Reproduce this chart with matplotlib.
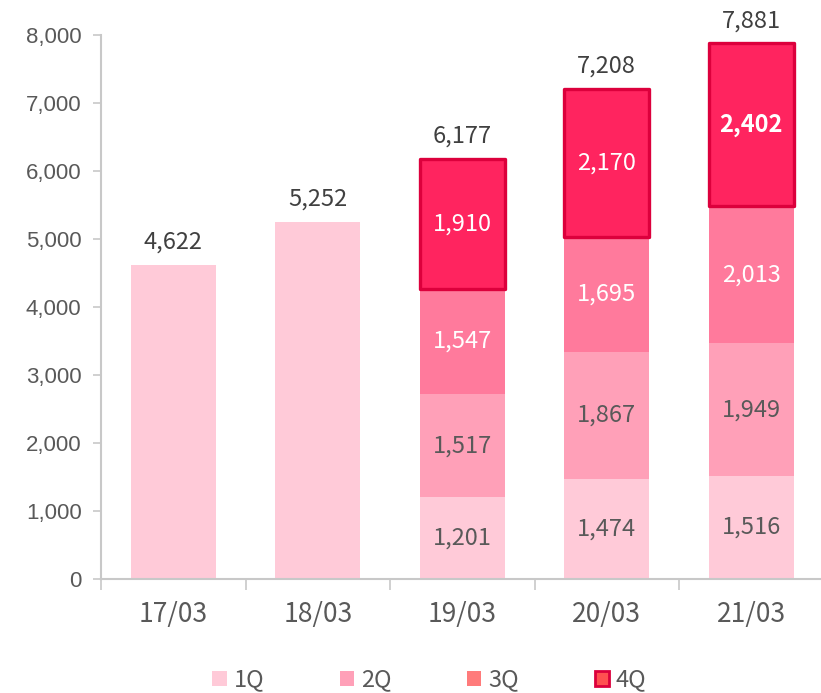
import matplotlib.pyplot as plt
from matplotlib.patches import Patch

plt.rcParams['font.family'] = ['Noto Sans CJK JP', 'DejaVu Sans']

# data
years = ['17/03', '18/03', '19/03', '20/03', '21/03']
q1 = [4622, 5252, 1201, 1474, 1516]
q2 = [0, 0, 1517, 1867, 1949]
q3 = [0, 0, 1547, 1695, 2013]
q4 = [0, 0, 1910, 2170, 2402]
totals = [4622, 5252, 6177, 7208, 7881]
yticks = [0, 1000, 2000, 3000, 4000, 5000, 6000, 7000, 8000]

c1, c2, c3, c4 = '#FFCAD8', '#FFA0B8', '#FF7A9C', '#FF245F'
edge4 = '#DC003C'
gray = '#595959'

fig = plt.figure(figsize=(8.21, 6.93), dpi=100)
ax = fig.add_axes([101 / 821, 1 - 579 / 693, 722.5 / 821, 544 / 693])

x = list(range(len(years)))
w = 0.59
b2 = q1
b3 = [a + b for a, b in zip(q1, q2)]
b4 = [a + b + c for a, b, c in zip(q1, q2, q3)]

ax.bar(x, q1, w, color=c1, zorder=2)
ax.bar(x[2:], q2[2:], w, bottom=b2[2:], color=c2, zorder=2)
ax.bar(x[2:], q3[2:], w, bottom=b3[2:], color=c3, zorder=2)
ax.bar(x[2:], q4[2:], w, bottom=b4[2:], color=c4, edgecolor=edge4,
       linewidth=2.4, joinstyle='round', zorder=3)

# segment labels
lab = dict(ha='center', va='center', fontsize=17)
for i in x[2:]:
    ax.text(i, q1[i] / 2, f'{q1[i]:,}', color=gray, **lab)
    ax.text(i, b2[i] + q2[i] / 2, f'{q2[i]:,}', color=gray, **lab)
    ax.text(i, b3[i] + q3[i] / 2, f'{q3[i]:,}', color='white', **lab)
    ax.text(i, b4[i] + q4[i] / 2, f'{q4[i]:,}', color='white',
            fontweight='bold' if i == 4 else 'normal', **lab)

for i, t in enumerate(totals):
    ax.text(i, t + 160, f'{t:,}', ha='center', va='bottom', fontsize=17,
            color='#404040')

ax.set_xlim(-0.5, 4.5)
ax.set_ylim(0, 8000)
ax.set_yticks(yticks)
ax.set_yticklabels([f'{v:,}' for v in yticks], family='Liberation Sans',
                   fontsize=16, color=gray)
ax.set_xticks(x)
ax.set_xticklabels(years, fontsize=19, color=gray)
ax.set_xticks([i - 0.5 for i in range(len(years) + 1)], minor=True)
ax.tick_params(axis='x', which='major', length=0, pad=16)
ax.tick_params(axis='x', which='minor', length=8, width=1.2, color='#C8C8C8')
ax.tick_params(axis='y', length=6, width=1.2, color='#C8C8C8', pad=8)

for s in ['top', 'right']:
    ax.spines[s].set_visible(False)
for s in ['left', 'bottom']:
    ax.spines[s].set_color('#C8C8C8')
    ax.spines[s].set_linewidth(1.5)

handles = [
    Patch(facecolor='#FFCAD8', label='1Q'),
    Patch(facecolor='#FFA0B8', label='2Q'),
    Patch(facecolor='#FF7B7B', label='3Q'),
    Patch(facecolor='#FF5050', edgecolor=edge4, linewidth=2, label='4Q'),
]
leg = fig.legend(handles=handles, loc='center', bbox_to_anchor=(0.523, 1 - 680 / 693),
                 ncol=4, frameon=False, fontsize=17, handlelength=0.6,
                 handleheight=0.6, handletextpad=0.3, columnspacing=3.2)
for t in leg.get_texts():
    t.set_color(gray)

fig.savefig('out.png', dpi=100)
